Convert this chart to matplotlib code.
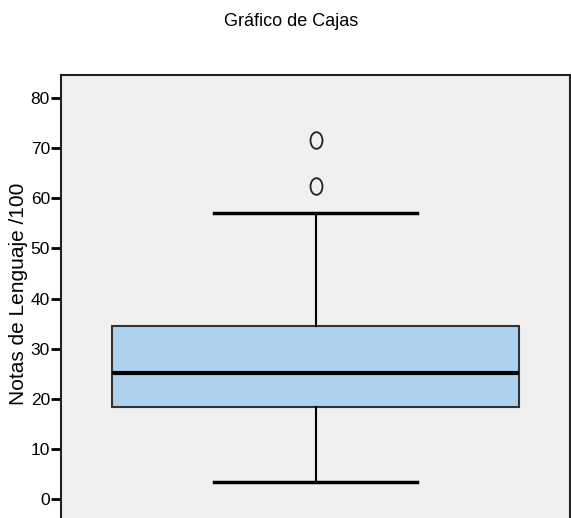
import matplotlib
matplotlib.use('Agg')
import matplotlib.pyplot as plt
from matplotlib.path import Path

# box statistics
q1 = 18.4
median = 25.2
q3 = 34.5
whisker_low = 3.3
whisker_high = 57.1
outliers = [62.5, 71.6]

yticks = [0, 10, 20, 30, 40, 50, 60, 70, 80]

stats = [{
    'med': median, 'q1': q1, 'q3': q3,
    'whislo': whisker_low, 'whishi': whisker_high,
    'fliers': outliers,
}]

font = ['Liberation Sans', 'DejaVu Sans']

# narrow oval marker like the SPSS outlier symbol
circle = Path.unit_circle()
oval = Path(circle.vertices * [0.72, 1.0], circle.codes)

fig = plt.figure(figsize=(5.71, 5.18), dpi=100)
ax = fig.add_axes([61 / 571, 0.0, 509 / 571, 1 - 75 / 518])
ax.set_facecolor('#F0F0F0')

ax.bxp(stats, positions=[1], widths=0.8, capwidths=0.4, patch_artist=True,
       boxprops=dict(facecolor='#AED1EE', edgecolor='#333333', linewidth=1.5),
       medianprops=dict(color='black', linewidth=3),
       whiskerprops=dict(color='black', linewidth=1.5),
       capprops=dict(color='black', linewidth=2.5),
       flierprops=dict(marker=oval, markerfacecolor='none', markeredgecolor='#222222',
                       markersize=12, markeredgewidth=1.3))

ax.set_xlim(0.5, 1.5)
ax.set_ylim(-3.8, 84.6)
ax.set_xticks([])
ax.set_yticks(yticks)
ax.set_yticklabels([str(t) for t in yticks], family=font, fontsize=12.5)
ax.tick_params(axis='y', direction='out', length=7, width=2, pad=1)

for side in ['left', 'top', 'right']:
    ax.spines[side].set_color('#222222')
    ax.spines[side].set_linewidth(1.5)
ax.spines['bottom'].set_visible(False)

ax.set_ylabel('Notas de Lenguaje /100', family=font, fontsize=15, va='center')
ax.yaxis.set_label_coords((19 - 61) / 509, (518 - 294) / 443)
fig.text(291 / 571, 1 - 22 / 518, 'Gráfico de Cajas', family=font, fontsize=13,
         ha='center', va='center')

fig.savefig('out.png', dpi=100)
